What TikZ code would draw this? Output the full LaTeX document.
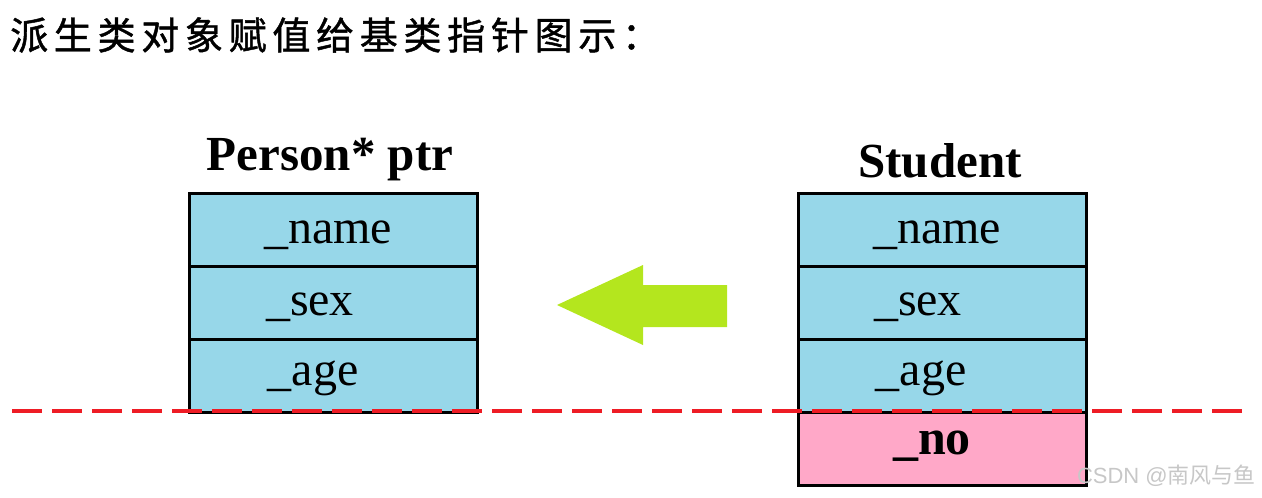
\documentclass[tikz,border=0pt]{standalone}
\usepackage{fontspec}
\setmainfont{Liberation Serif}
\newfontfamily\cjk{Noto Sans CJK SC}
\newfontfamily\cjkls[LetterSpace=15,FakeBold=1.2]{Noto Sans CJK SC}
\newfontfamily\wm{Liberation Sans}
\definecolor{cellblue}{HTML}{97D7E9}
\definecolor{cellpink}{HTML}{FFA8C8}
\definecolor{arrowgreen}{HTML}{B4E61E}
\definecolor{dashred}{HTML}{EE1C25}
\begin{document}
\begin{tikzpicture}[x=1pt,y=-1pt,
  cell/.style={draw=black,line width=3pt,fill=cellblue,minimum width=288pt,minimum height=73pt,inner sep=0pt},
  nocell/.style={cell,fill=cellpink},
  field/.style={anchor=base,inner sep=0pt,font=\fontsize{48}{52}\selectfont},
  nofield/.style={field,font=\fontsize{50}{54}\selectfont\bfseries},
  heading/.style={font=\fontsize{49}{54}\selectfont\bfseries,inner sep=0pt,anchor=base}]
\useasboundingbox (0,0) rectangle (1262,498);
\node[anchor=west,inner sep=0pt,font=\fontsize{38}{40}\selectfont\cjkls] (title) at (10,35) {派生类对象赋值给基类指针图示：};
% left table
\node[cell] (l1) at (333.5,229.5) {};
\node[cell] (l2) at (333.5,302.5) {};
\node[cell] (l3) at (333.5,375.5) {};
\node[field] (l1t) at (328,243) {\_name};
\node[field] (l2t) at (310,315) {\_sex};
\node[field] (l3t) at (313,385) {\_age};
\node[heading] (lt) at (330,170) {Person* ptr};
% right table
\node[cell] (r1) at (942,229.5) {};
\node[cell] (r2) at (942,302.5) {};
\node[cell] (r3) at (942,375.5) {};
\node[nocell] (r4) at (942,448.5) {};
\node[field] (r1t) at (937,243) {\_name};
\node[field] (r2t) at (918,315) {\_sex};
\node[field] (r3t) at (921,385) {\_age};
\node[nofield] (r4t) at (932,454) {\_no};
\node[heading] (rt) at (940,177) {Student};
% arrow
\fill[arrowgreen] (557,305) -- (643,265) -- (643,285) -- (727,285) -- (727,327) -- (643,327) -- (643,345) -- cycle;
% dashed line
\coordinate (dl) at (12,411);
\coordinate (dr) at (1245,411);
\draw[dashred,line width=4pt,dash pattern=on 30pt off 10pt] (dl) -- (dr);
% watermark
\node[anchor=east,inner sep=0pt,text=black!22,font=\fontsize{22}{24}\selectfont] (wmk) at (1256,476) {\wm CSDN @\cjk 南风与鱼};
\end{tikzpicture}
\end{document}
